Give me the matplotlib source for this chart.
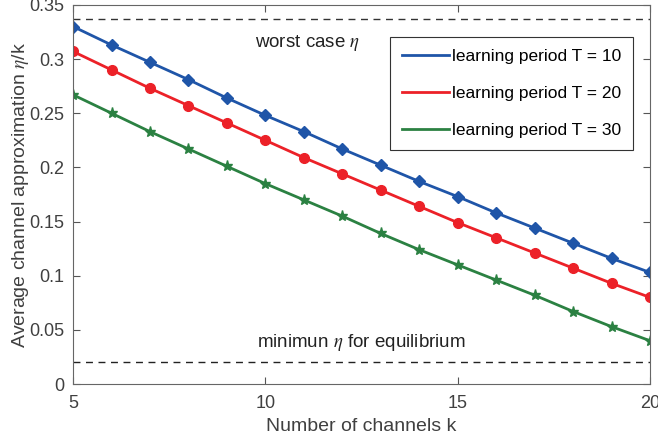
import numpy as np
import matplotlib
matplotlib.use('Agg')
import matplotlib.pyplot as plt

plt.rcParams.update({
    'font.family': ['Liberation Sans', 'DejaVu Sans'],
    'font.size': 13,
    'mathtext.fontset': 'stix',
})

k = list(range(5, 21))
eta_T10 = [0.330, 0.313, 0.297, 0.281, 0.264, 0.248, 0.233, 0.217,
           0.202, 0.187, 0.173, 0.158, 0.144, 0.130, 0.116, 0.103]
eta_T20 = [0.307, 0.290, 0.273, 0.257, 0.241, 0.225, 0.209, 0.194,
           0.179, 0.164, 0.149, 0.135, 0.121, 0.107, 0.093, 0.080]
eta_T30 = [0.267, 0.250, 0.233, 0.217, 0.201, 0.185, 0.170, 0.155,
           0.139, 0.124, 0.110, 0.096, 0.082, 0.067, 0.053, 0.040]
worst_eta = 0.337
min_eta = 0.02

fig = plt.figure(figsize=(6.58, 4.42), dpi=100)
ax = fig.add_axes([0.111, 0.131, 0.877, 0.858])

blue, red, green = '#1f55a8', '#ec2128', '#2b8142'
ax.plot(k, eta_T10, '-D', color=blue, lw=2, ms=6, label='learning period T = 10')
ax.plot(k, eta_T20, '-o', color=red, lw=2, ms=7, label='learning period T = 20')
ax.plot(k, eta_T30, '-*', color=green, lw=2, ms=8, label='learning period T = 30')

ax.axhline(worst_eta, color='#333333', ls=(0, (5, 4)), lw=1)
ax.axhline(min_eta, color='#222222', ls=(0, (5, 4)), lw=1)
ax.text(9.73, 0.315, r'worst case $\eta$', va='center', color='#222222', fontsize=13.5)
ax.text(9.78, 0.038, r'minimun $\eta$ for equilibrium', va='center', color='#222222',
        fontsize=13.5)

ax.set_xlim(5, 20)
ax.set_ylim(0, 0.35)
ax.set_xticks([5, 10, 15, 20])
ax.set_yticks(np.arange(0, 0.351, 0.05))
ax.set_yticklabels(['0', '0.05', '0.1', '0.15', '0.2', '0.25', '0.3', '0.35'])
ax.tick_params(direction='in', top=True, right=True, colors='#555555',
               labelcolor='#404040', labelsize=13, length=5)
ax.tick_params(axis='x', pad=8)
ax.tick_params(axis='y', pad=6)
for s in ax.spines.values():
    s.set_color('#666666')

ax.set_xlabel('Number of channels k', color='#404040', fontsize=14, labelpad=4)
ax.set_ylabel(r'Average channel approximation $\eta$/k', color='#404040', fontsize=14,
              labelpad=-1)

handles, labels = ax.get_legend_handles_labels()
leg = ax.legend(handles=[plt.Line2D([], [], color=c, lw=2) for c in (blue, red, green)],
                labels=labels, loc='upper right', bbox_to_anchor=(0.9705, 0.9156),
                fancybox=False, edgecolor='#333333', framealpha=1, fontsize=12.5,
                handlelength=2.7, handletextpad=0.15, labelspacing=1.25,
                borderpad=0.7, borderaxespad=0)
leg.get_frame().set_linewidth(0.8)

fig.savefig('out.png', dpi=100)
